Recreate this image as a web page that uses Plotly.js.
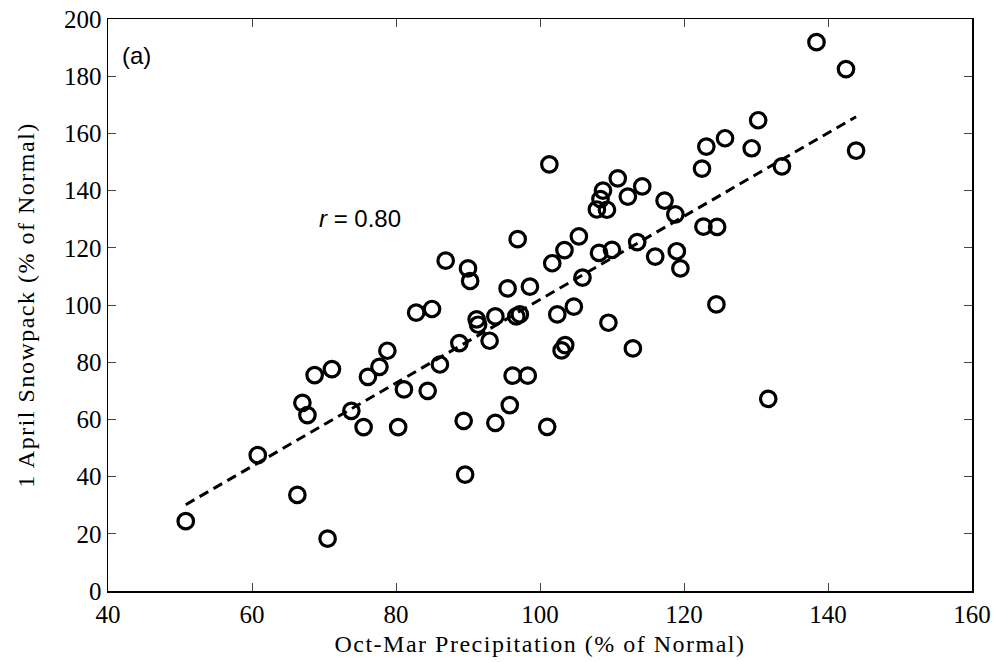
<!DOCTYPE html>
<html><head><meta charset="utf-8">
<script src="https://cdn.plot.ly/plotly-3.0.1.min.js"></script>
<style>
html,body{margin:0;padding:0;background:#fff}
.xtitle,.ytitle{letter-spacing:1.5px}
</style>
</head><body><div id="chart" style="width:1000px;height:662px"></div>
<script>
// Oct-Mar precipitation (% of normal)
const precip = [50.8,60.8,66.3,70.5,67.0,67.7,68.7,71.1,73.8,75.5,
  76.1,77.7,78.8,80.3,81.1,82.8,85.0,84.4,86.1,86.9,
  88.8,89.4,89.6,90.0,90.3,91.2,91.4,93.0,93.8,93.8,
  95.5,95.8,96.2,96.7,97.2,96.9,98.3,98.6,101.0,101.3,
  101.7,102.4,103.0,103.5,103.4,104.7,105.4,105.9,108.2,107.9,
  109.3,108.4,108.75,109.5,110.0,110.8,112.2,112.9,113.5,114.2,
  116.0,117.3,118.8,119.0,119.5,122.5,123.1,122.7,124.5,124.6,
  125.7,129.4,130.3,131.7,133.6,138.4,142.5,143.9];
// 1 April snowpack (% of normal)
const snowpack = [24.4,47.5,33.6,18.3,65.8,61.5,75.5,77.6,63.0,57.3,
  74.9,78.4,84.0,57.3,70.5,97.3,98.6,70.0,79.2,115.5,
  86.7,59.5,40.7,112.8,108.4,95.0,93.1,87.5,96.0,58.8,
  105.8,65.0,75.3,96.0,96.7,123.0,75.3,106.4,57.4,149.2,
  114.6,96.7,84.1,86.0,119.2,99.4,124.0,109.6,118.2,133.4,
  133.3,137.0,140.0,93.8,119.3,144.3,137.9,84.8,122.0,141.5,
  116.9,136.5,131.7,118.8,112.8,147.7,155.4,127.4,100.2,127.3,
  158.3,154.8,164.6,67.2,148.5,191.9,182.5,154.0];
const xTicks = [40,60,80,100,120,140,160];
const yTicks = [0,20,40,60,80,100,120,140,160,180,200];
const panelLabel = "(a)";
const rLabel = "<i>r</i> = 0.80";

// least-squares fit line over data range
const n = precip.length;
const mx = precip.reduce((a,b)=>a+b,0)/n;
const my = snowpack.reduce((a,b)=>a+b,0)/n;
let sxy=0, sxx=0;
for (let i=0;i<n;i++){ sxy += (precip[i]-mx)*(snowpack[i]-my); sxx += (precip[i]-mx)**2; }
const slope = sxy/sxx, icpt = my - slope*mx;
const fitX = [Math.min(...precip), Math.max(...precip)];
const fitY = fitX.map(v => icpt + slope*v);

const serif = "Liberation Serif, Times New Roman, serif";
const sans = "Liberation Sans, Arial, sans-serif";

const traces = [
  {x: fitX, y: fitY, mode: "lines", type: "scatter",
   line: {color: "#000", width: 3, dash: "10px,6px"}, hoverinfo: "skip"},
  {x: precip, y: snowpack, mode: "markers", type: "scatter",
   marker: {symbol: "circle-open", size: 15.5, color: "#000", line: {width: 3.2, color: "#000"}}}
];

const axisCommon = {
  showgrid: false, zeroline: false, showline: true, linecolor: "#000", linewidth: 1.5,
  mirror: "ticks", ticks: "inside", ticklen: 8, tickwidth: 1, tickcolor: "#444",
  tickfont: {family: serif, size: 25, color: "#000"}
};

const layout = {
  width: 1000, height: 662,
  margin: {l: 108, r: 28, t: 19, b: 71},
  paper_bgcolor: "#fff", plot_bgcolor: "#fff",
  showlegend: false,
  xaxis: Object.assign({}, axisCommon, {
    range: [40, 160], tickvals: xTicks, ticktext: xTicks.map(String),
    title: {text: "Oct-Mar Precipitation (% of Normal)", font: {family: serif, size: 24, color: "#000"}, standoff: 8}
  }),
  yaxis: Object.assign({}, axisCommon, {
    range: [0, 200], tickvals: yTicks, ticktext: yTicks.map(String),
    title: {text: "1 April Snowpack (% of Normal)", font: {family: serif, size: 24, color: "#000"}, standoff: 22}
  }),
  annotations: [
    {x: 41.7, y: 187.1, xref: "x", yref: "y", text: panelLabel, showarrow: false,
     xanchor: "left", yanchor: "middle", font: {family: sans, size: 24, color: "#000"}},
    {x: 69.0, y: 130.1, xref: "x", yref: "y", text: rLabel, showarrow: false,
     xanchor: "left", yanchor: "middle", font: {family: sans, size: 24, color: "#000"}}
  ]
};

Plotly.newPlot("chart", traces, layout, {displayModeBar: false, staticPlot: true});
</script>
</body></html>
